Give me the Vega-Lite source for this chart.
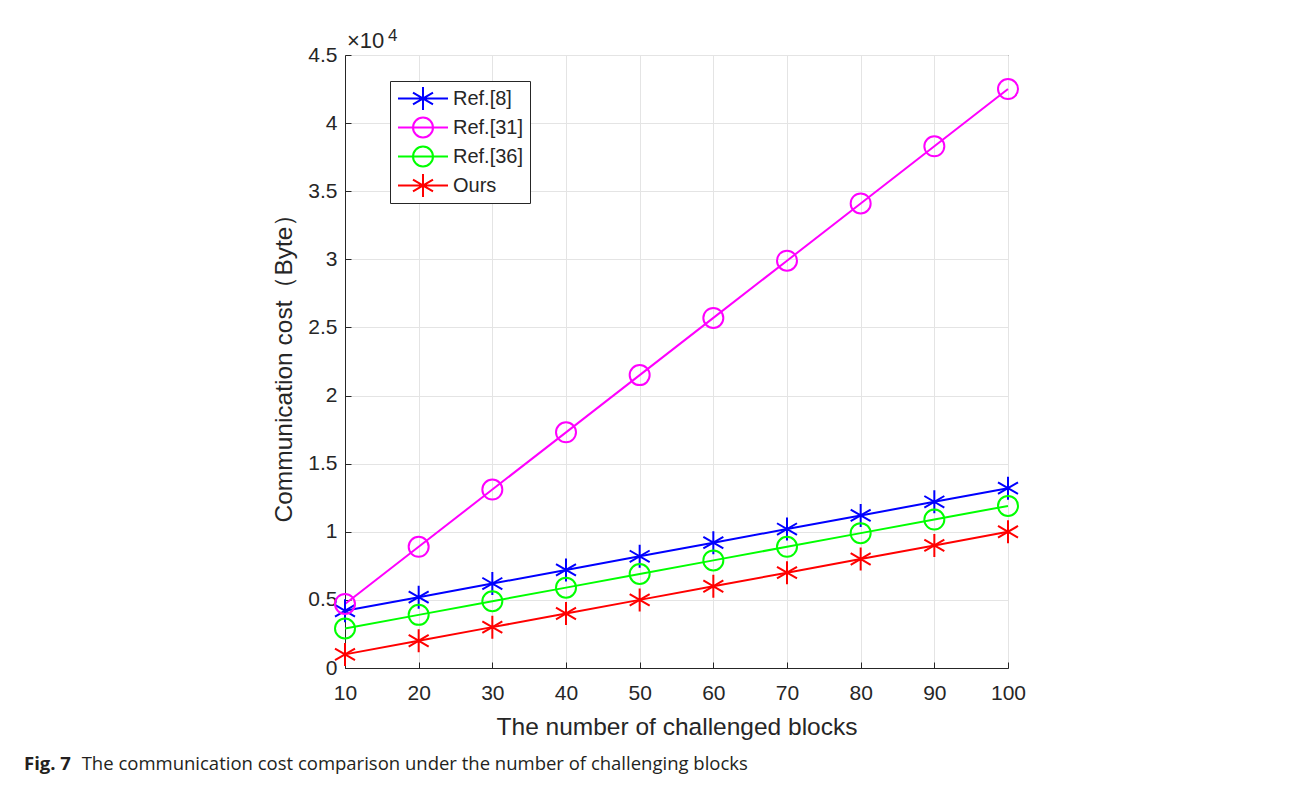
{
  "$schema": "https://vega.github.io/schema/vega-lite/v6.json",
  "width": 663,
  "height": 613,
  "autosize": {"type": "none"},
  "padding": {"left": 345, "top": 55, "right": 286, "bottom": 118},
  "background": "white",
  "config": {
    "font": "Liberation Sans",
    "view": {"stroke": "#262626", "strokeWidth": 1},
    "axis": {
      "domainColor": "#262626",
      "tickColor": "#262626",
      "labelColor": "#262626",
      "titleColor": "#262626",
      "labelFont": "Liberation Sans",
      "titleFont": "Liberation Sans",
      "labelFontSize": 21,
      "titleFontSize": 24.5,
      "titleFontWeight": "normal",
      "gridColor": "#e4e4e4",
      "gridWidth": 1,
      "tickSize": -6,
      "labelFlush": false
    }
  },
  "title": {
    "text": "Fig. 7",
    "subtitle": "\u200b\u00a0\u00a0\u00a0\u00a0\u00a0\u00a0\u00a0\u00a0\u00a0\u00a0\u00a0\u00a0The communication cost comparison under the number of challenging blocks",
    "orient": "bottom",
    "anchor": "start",
    "frame": "group",
    "dx": -321,
    "offset": 16,
    "font": "Open Sans",
    "fontSize": 18.5,
    "fontWeight": "bold",
    "color": "#231f20",
    "subtitleFont": "Open Sans",
    "subtitleFontSize": 18.5,
    "subtitleFontWeight": "normal",
    "subtitleColor": "#231f20",
    "subtitlePadding": -18
  },
  "datasets": {
    "costs": [
      {"n": 10, "series": "Ref.[8]", "marker": "asterisk", "cost": 4200},
      {"n": 20, "series": "Ref.[8]", "marker": "asterisk", "cost": 5200},
      {"n": 30, "series": "Ref.[8]", "marker": "asterisk", "cost": 6200},
      {"n": 40, "series": "Ref.[8]", "marker": "asterisk", "cost": 7200},
      {"n": 50, "series": "Ref.[8]", "marker": "asterisk", "cost": 8200},
      {"n": 60, "series": "Ref.[8]", "marker": "asterisk", "cost": 9200},
      {"n": 70, "series": "Ref.[8]", "marker": "asterisk", "cost": 10200},
      {"n": 80, "series": "Ref.[8]", "marker": "asterisk", "cost": 11200},
      {"n": 90, "series": "Ref.[8]", "marker": "asterisk", "cost": 12200},
      {"n": 100, "series": "Ref.[8]", "marker": "asterisk", "cost": 13200},
      {"n": 10, "series": "Ref.[31]", "marker": "circle", "cost": 4700},
      {"n": 20, "series": "Ref.[31]", "marker": "circle", "cost": 8900},
      {"n": 30, "series": "Ref.[31]", "marker": "circle", "cost": 13100},
      {"n": 40, "series": "Ref.[31]", "marker": "circle", "cost": 17300},
      {"n": 50, "series": "Ref.[31]", "marker": "circle", "cost": 21500},
      {"n": 60, "series": "Ref.[31]", "marker": "circle", "cost": 25700},
      {"n": 70, "series": "Ref.[31]", "marker": "circle", "cost": 29900},
      {"n": 80, "series": "Ref.[31]", "marker": "circle", "cost": 34100},
      {"n": 90, "series": "Ref.[31]", "marker": "circle", "cost": 38300},
      {"n": 100, "series": "Ref.[31]", "marker": "circle", "cost": 42500},
      {"n": 10, "series": "Ref.[36]", "marker": "circle", "cost": 2900},
      {"n": 20, "series": "Ref.[36]", "marker": "circle", "cost": 3900},
      {"n": 30, "series": "Ref.[36]", "marker": "circle", "cost": 4900},
      {"n": 40, "series": "Ref.[36]", "marker": "circle", "cost": 5900},
      {"n": 50, "series": "Ref.[36]", "marker": "circle", "cost": 6900},
      {"n": 60, "series": "Ref.[36]", "marker": "circle", "cost": 7900},
      {"n": 70, "series": "Ref.[36]", "marker": "circle", "cost": 8900},
      {"n": 80, "series": "Ref.[36]", "marker": "circle", "cost": 9900},
      {"n": 90, "series": "Ref.[36]", "marker": "circle", "cost": 10900},
      {"n": 100, "series": "Ref.[36]", "marker": "circle", "cost": 11900},
      {"n": 10, "series": "Ours", "marker": "asterisk", "cost": 1000},
      {"n": 20, "series": "Ours", "marker": "asterisk", "cost": 2000},
      {"n": 30, "series": "Ours", "marker": "asterisk", "cost": 3000},
      {"n": 40, "series": "Ours", "marker": "asterisk", "cost": 4000},
      {"n": 50, "series": "Ours", "marker": "asterisk", "cost": 5000},
      {"n": 60, "series": "Ours", "marker": "asterisk", "cost": 6000},
      {"n": 70, "series": "Ours", "marker": "asterisk", "cost": 7000},
      {"n": 80, "series": "Ours", "marker": "asterisk", "cost": 8000},
      {"n": 90, "series": "Ours", "marker": "asterisk", "cost": 9000},
      {"n": 100, "series": "Ours", "marker": "asterisk", "cost": 10000}
    ],
    "exponent": [{"base": "×10", "power": "4"}]
  },
  "layer": [
    {
      "data": {"name": "costs"},
      "mark": {"type": "line", "strokeWidth": 2},
      "encoding": {
        "x": {
          "field": "n", "type": "quantitative",
          "scale": {"domain": [10, 100], "nice": false, "zero": false},
          "axis": {
            "values": [10, 20, 30, 40, 50, 60, 70, 80, 90, 100],
            "title": "The number of challenged blocks",
            "labelPadding": 20,
            "titlePadding": 12,
            "grid": true
          }
        },
        "y": {
          "field": "cost", "type": "quantitative",
          "scale": {"domain": [0, 45000], "nice": false},
          "axis": {
            "values": [0, 5000, 10000, 15000, 20000, 25000, 30000, 35000, 40000, 45000],
            "labelExpr": "datum.value / 10000",
            "title": "Communication cost（Byte）",
            "labelPadding": 14,
            "titlePadding": 11,
            "grid": true
          }
        },
        "color": {
          "field": "series", "type": "nominal",
          "scale": {"domain": ["Ref.[8]", "Ref.[31]", "Ref.[36]", "Ours"], "range": ["#0000ff", "#ff00ff", "#00ff00", "#ff0000"]},
          "legend": {
            "orient": "none", "legendX": 45, "legendY": 26, "title": null,
            "strokeColor": "#262626", "fillColor": "white", "padding": 6,
            "labelFontSize": 20, "labelColor": "#262626", "labelFont": "Liberation Sans",
            "symbolSize": 400, "symbolStrokeWidth": 2, "rowPadding": 6, "clipHeight": 23,
            "labelOffset": 19, "symbolOffset": 16,
            "encode": {
              "symbols": {
                "update": {
                  "shape": {"signal": "(datum.value === 'Ref.[8]' || datum.value === 'Ours') ? 'M-2.5,0L2.5,0M0,-1.15L0,1.15M-1,-0.58L1,0.58M-1,0.58L1,-0.58' : 'M-2.5,0L2.5,0M1,0A1,1,0,1,1,-1,0A1,1,0,1,1,1,0'"},
                  "fill": {"value": "transparent"},
                  "stroke": {"scale": "color", "field": "value"},
                  "strokeWidth": {"value": 2},
                  "size": {"value": 400}
                }
              }
            }
          }
        }
      }
    },
    {
      "data": {"name": "costs"},
      "mark": {"type": "point", "filled": false, "strokeWidth": 2, "size": 400, "opacity": 1},
      "encoding": {
        "x": {"field": "n", "type": "quantitative"},
        "y": {"field": "cost", "type": "quantitative"},
        "color": {"field": "series", "type": "nominal"},
        "shape": {
          "field": "marker", "type": "nominal",
          "scale": {"domain": ["asterisk", "circle"], "range": ["M0,-1.15L0,1.15M-1,-0.58L1,0.58M-1,0.58L1,-0.58", "circle"]},
          "legend": null
        }
      }
    },
    {
      "data": {"name": "exponent"},
      "mark": {"type": "text", "align": "left", "baseline": "alphabetic", "dx": 2, "dy": -7, "fontSize": 22, "color": "#262626", "font": "Liberation Sans"},
      "encoding": {
        "x": {"datum": 10, "type": "quantitative"},
        "y": {"datum": 45000, "type": "quantitative"},
        "text": {"field": "base", "type": "nominal"}
      }
    },
    {
      "data": {"name": "exponent"},
      "mark": {"type": "text", "align": "left", "baseline": "alphabetic", "dx": 43, "dy": -14, "fontSize": 17, "color": "#262626", "font": "Liberation Sans"},
      "encoding": {
        "x": {"datum": 10, "type": "quantitative"},
        "y": {"datum": 45000, "type": "quantitative"},
        "text": {"field": "power", "type": "nominal"}
      }
    }
  ]
}
